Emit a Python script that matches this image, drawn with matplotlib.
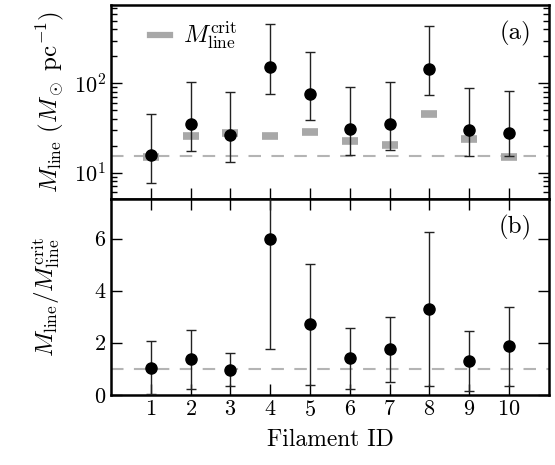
import numpy as np
import matplotlib
matplotlib.use('Agg')
import matplotlib.pyplot as plt
from matplotlib.lines import Line2D

plt.rcParams['font.family'] = 'serif'
plt.rcParams['font.serif'] = ['cmr10']
plt.rcParams['mathtext.fontset'] = 'cm'
plt.rcParams['axes.formatter.use_mathtext'] = True

fid = np.arange(1, 11)

# top panel: line mass, with lower/upper limits of error bars
mline = [15.6, 35.0, 26.7, 153, 75.5, 30.8, 34.7, 145, 30.0, 27.6]
mline_lo = [7.7, 17.4, 13.2, 76.7, 38.4, 15.6, 17.7, 73.6, 15.3, 15.2]
mline_hi = [45.6, 103, 79.4, 457, 224, 91.6, 104, 436, 89, 82.8]
mcrit = [15.1, 25.9, 27.8, 25.9, 28.5, 22.3, 20.3, 45.2, 23.6, 15.1]
mcrit_ref = 15.3

# bottom panel: ratio
ratio = [1.04, 1.36, 0.97, 6.0, 2.72, 1.40, 1.74, 3.30, 1.28, 1.86]
ratio_lo = [0.03, 0.22, 0.32, 1.74, 0.37, 0.24, 0.49, 0.32, 0.13, 0.32]
ratio_hi = [2.05, 2.49, 1.59, 18.0, 5.04, 2.58, 2.99, 6.24, 2.44, 3.37]

gray = '#a8a8a8'
dgray = '#b4b4b4'
ecol = '#222222'

fig = plt.figure(figsize=(5.55, 4.65), dpi=100)
ax1 = fig.add_axes([0.2, 0.571, 0.789, 0.418])
ax2 = fig.add_axes([0.2, 0.151, 0.789, 0.42])

m = np.array(mline)
yerr1 = [m - np.array(mline_lo), np.array(mline_hi) - m]
ax1.axhline(mcrit_ref, color=dgray, lw=1.5, dashes=(6, 5), zorder=1)
ax1.plot(fid, mcrit, ls='none', marker='_', ms=12, mew=5.5, color=gray, zorder=2)
ax1.errorbar(fid, m, yerr=yerr1, fmt='o', color='k', ecolor=ecol, ms=8, elinewidth=1,
             capsize=3.5, capthick=1, zorder=3)
ax1.set_yscale('log')
ax1.set_ylim(5, 750)
ax1.set_xlim(0, 11)
ax1.set_xticks(fid)
ax1.set_xticklabels([])
ax1.set_ylabel(r'$M_{\rm line}\ (M_\odot\ {\rm pc}^{-1})$', fontsize=18, labelpad=6)
ax1.text(0.96, 0.92, '(a)', transform=ax1.transAxes, ha='right', va='top', fontsize=18)
h = Line2D([], [], color=gray, lw=4.5)
ax1.legend([h], [r'$M_{\rm line}^{\rm crit}$'], loc='upper left', frameon=False,
           fontsize=18, handlelength=0.8, handletextpad=0.5,
           borderaxespad=0.2, bbox_to_anchor=(0.055, 1.0))
ax1.tick_params(which='both', direction='in', left=True, right=True, bottom=True, top=False,
                labelsize=16)
ax1.tick_params(which='major', length=8, width=1)
ax1.tick_params(which='minor', length=4, width=1)

r = np.array(ratio)
yerr2 = [r - np.array(ratio_lo), np.array(ratio_hi) - r]
ax2.axhline(1.0, color=dgray, lw=1.5, dashes=(6, 5), zorder=1)
ax2.errorbar(fid, r, yerr=yerr2, fmt='o', color='k', ecolor=ecol, ms=8, elinewidth=1,
             capsize=3.5, capthick=1, zorder=3)
ax2.set_ylim(0, 7.5)
ax2.set_xlim(0, 11)
ax2.set_xticks(fid)
ax2.set_yticks([0, 2, 4, 6])
ax2.set_xlabel('Filament ID', fontsize=17, labelpad=7)
ax2.set_ylabel(r'$M_{\rm line}/M_{\rm line}^{\rm crit}$', fontsize=18, labelpad=22)
ax2.text(0.96, 0.92, '(b)', transform=ax2.transAxes, ha='right', va='top', fontsize=18)
ax2.tick_params(which='both', direction='in', left=True, right=True, bottom=True, top=True,
                labelsize=16, length=8, width=1)

for ax in (ax1, ax2):
    for s in ax.spines.values():
        s.set_linewidth(1.8)

fig.savefig('out.png', dpi=100)
